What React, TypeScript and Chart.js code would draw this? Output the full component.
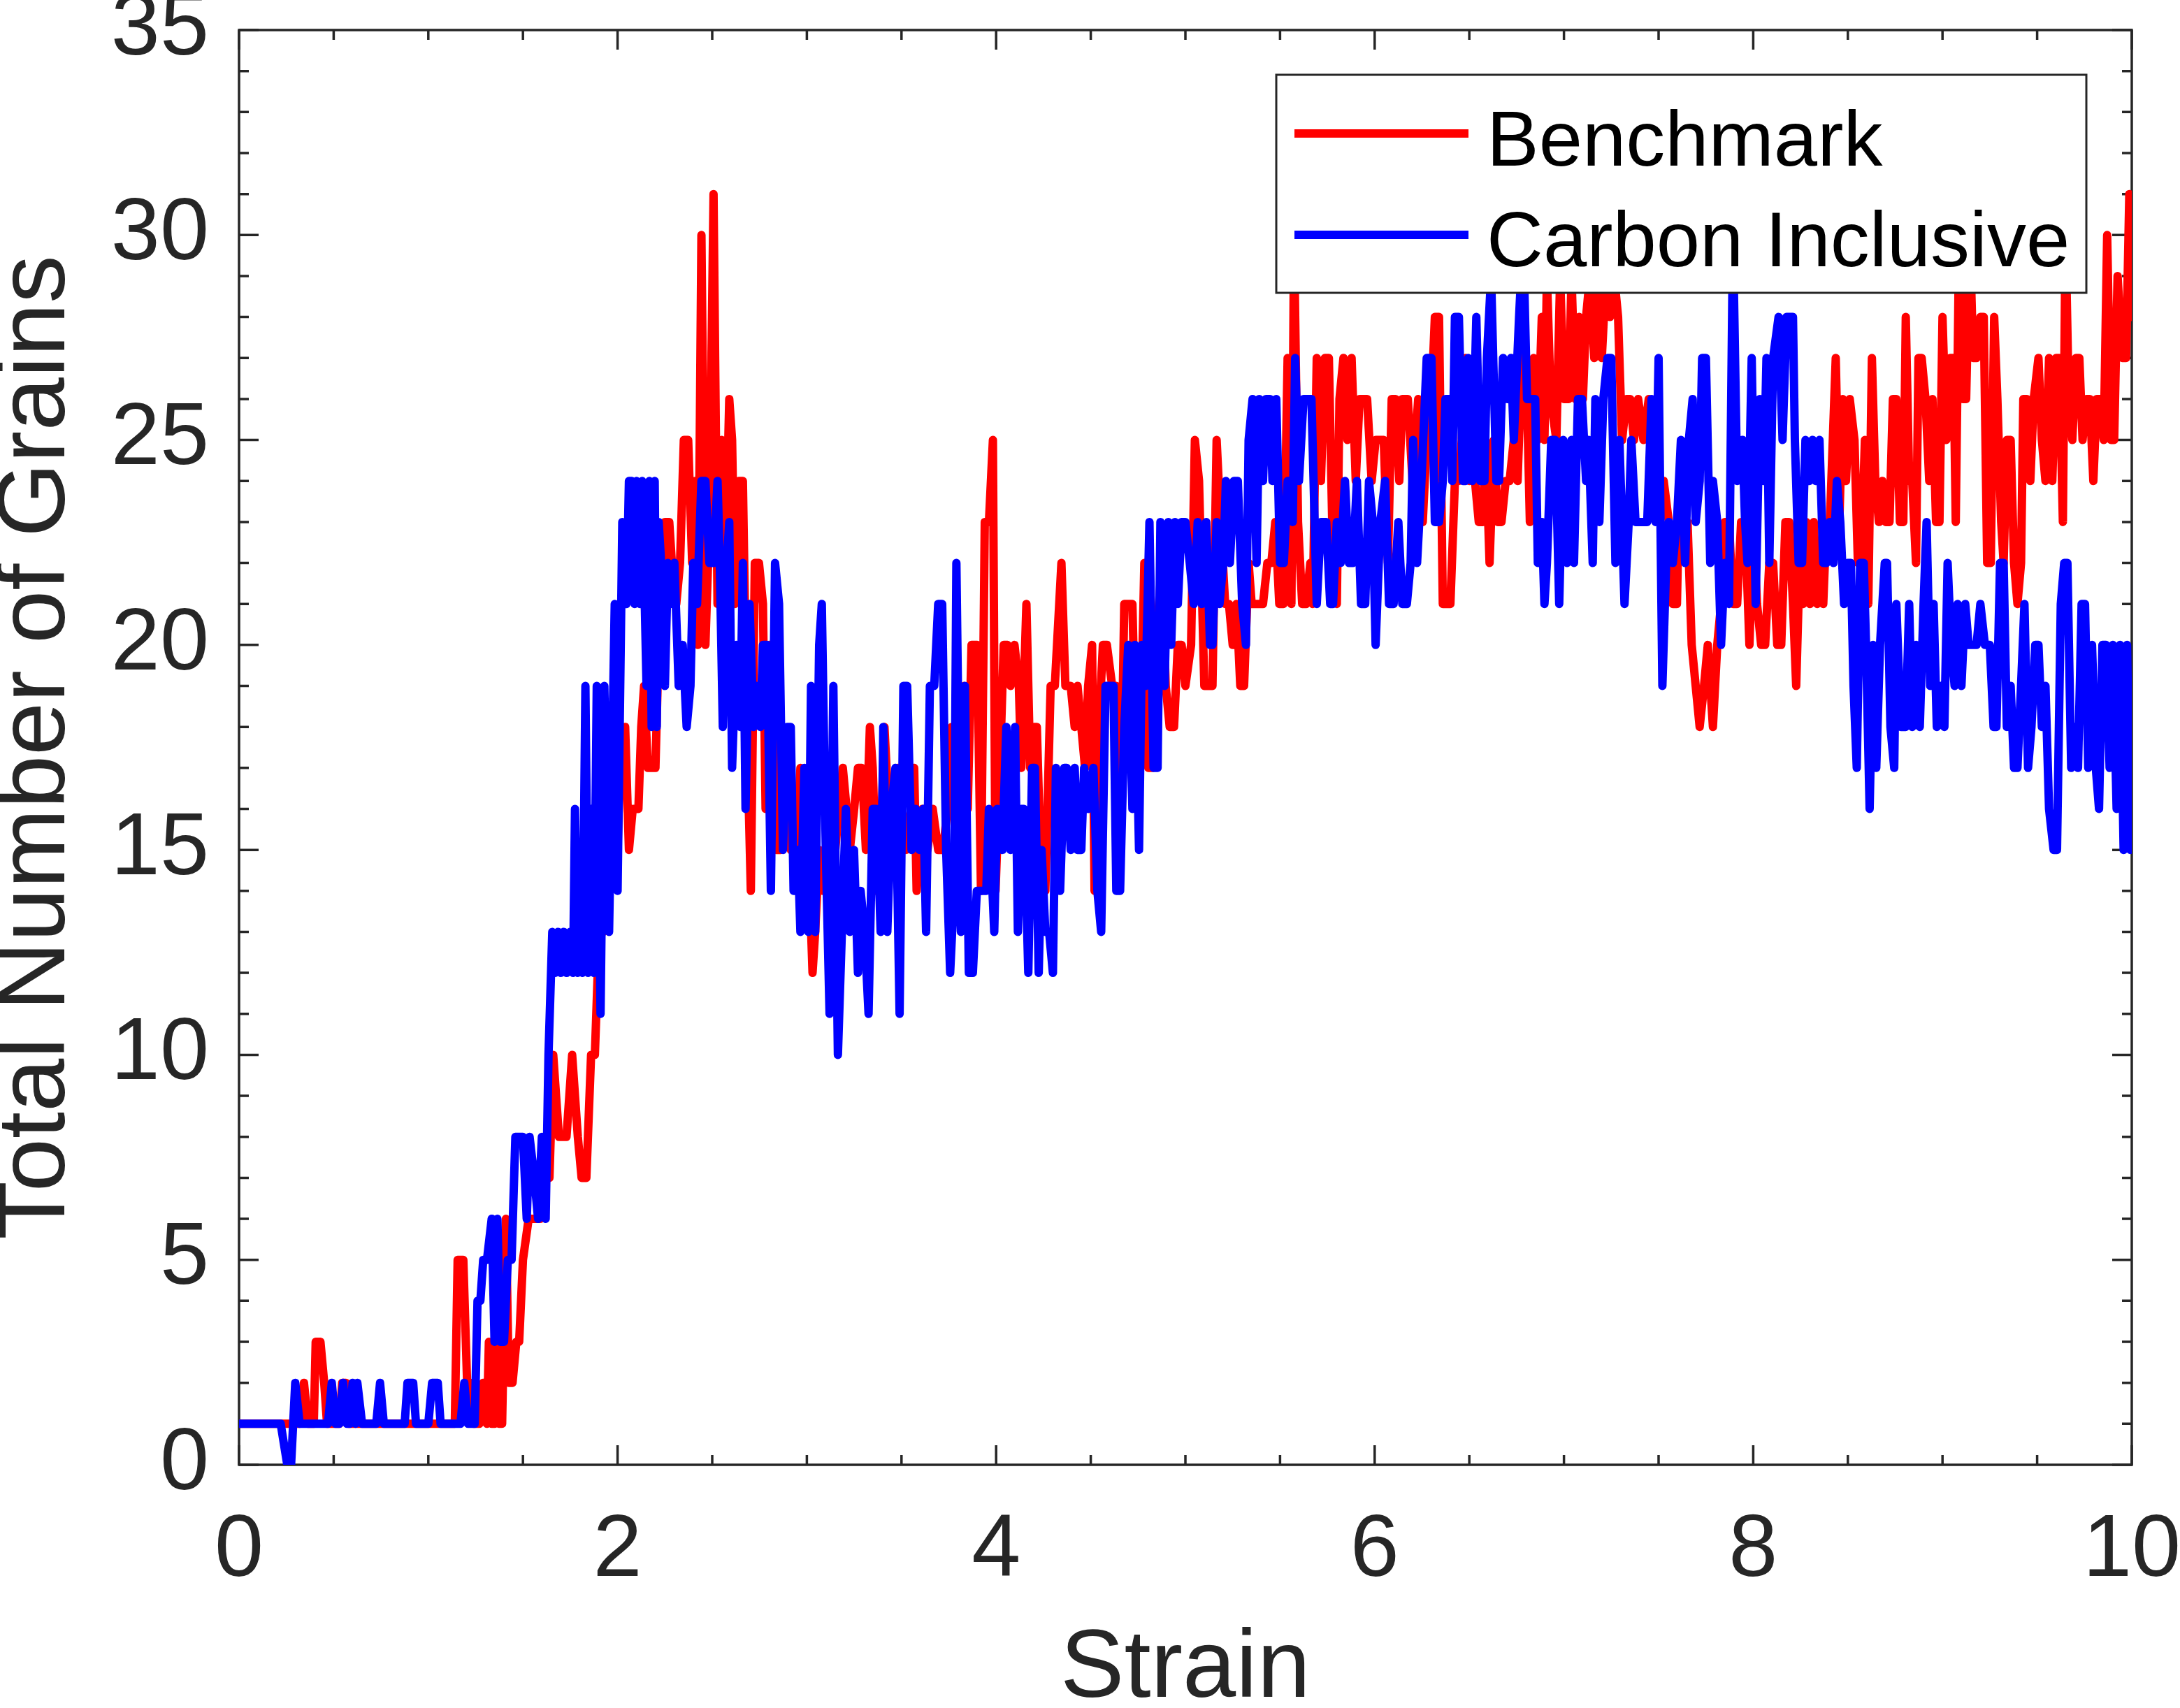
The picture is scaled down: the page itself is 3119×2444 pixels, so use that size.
import React, { useEffect, useRef } from "react";
import { Chart, registerables } from "chart.js";

Chart.register(...registerables);

type P = [number, number];

// ---------- data: [strain, total number of grains] ----------
const carbonA: P[] = [
  [0, 1], [0.22, 1], [0.255, 0], [0.275, 0], [0.297, 2], [0.32, 1], [0.47, 1], [0.49, 2], [0.51, 1], [0.53, 1],
  [0.55, 2], [0.57, 1], [0.585, 1], [0.6, 2], [0.615, 1], [0.625, 2], [0.65, 1], [0.725, 1], [0.745, 2], [0.765, 1],
  [0.875, 1], [0.89, 2], [0.92, 2], [0.935, 1], [1.0, 1], [1.02, 2], [1.05, 2], [1.065, 1], [1.17, 1], [1.19, 2],
  [1.21, 1], [1.245, 1], [1.26, 4], [1.275, 4], [1.29, 5], [1.31, 5], [1.335, 6], [1.35, 3], [1.365, 6], [1.38, 3],
  [1.4, 3], [1.42, 5], [1.44, 5], [1.46, 8], [1.48, 8], [1.5, 8], [1.52, 6], [1.535, 8], [1.56, 7], [1.58, 6],
  [1.6, 8], [1.62, 6], [1.635, 10], [1.655, 13], [1.67, 12], [1.685, 13], [1.7, 12], [1.715, 13], [1.73, 12], [1.75, 13],
  [1.765, 12], [1.775, 16], [1.79, 12], [1.8, 15], [1.815, 12], [1.83, 19], [1.845, 12], [1.86, 16], [1.875, 12], [1.89, 19],
];
const carbonB: P[] = [
  [1.91, 11], [1.93, 19], [1.955, 13], [1.985, 21], [2.0, 14], [2.025, 23], [2.047, 21], [2.06, 24], [2.075, 24], [2.09, 21],
  [2.1, 24], [2.118, 21], [2.13, 24], [2.153, 19], [2.168, 24], [2.18, 18], [2.196, 24], [2.207, 18], [2.217, 23], [2.23, 22],
  [2.25, 19], [2.266, 22], [2.28, 21], [2.3, 22], [2.323, 19], [2.344, 20], [2.365, 18], [2.385, 19], [2.4, 22], [2.42, 21],
  [2.443, 24], [2.464, 24], [2.485, 22], [2.507, 22], [2.528, 24], [2.54, 22], [2.556, 18], [2.577, 22], [2.59, 23], [2.605, 17],
  [2.627, 20], [2.648, 18], [2.662, 22], [2.676, 16], [2.697, 21], [2.718, 18], [2.733, 19], [2.754, 18], [2.768, 20], [2.79, 20],
  [2.81, 14], [2.832, 22], [2.853, 21], [2.874, 15], [2.895, 18], [2.915, 18], [2.93, 14], [2.952, 15], [2.966, 13], [2.987, 17],
  [3.008, 13], [3.022, 19], [3.044, 13], [3.065, 20], [3.079, 21], [3.1, 15], [3.12, 11], [3.14, 19], [3.164, 10], [3.185, 13],
  [3.206, 16], [3.227, 13], [3.249, 15], [3.27, 12], [3.284, 14], [3.305, 13], [3.326, 11], [3.348, 16], [3.369, 16], [3.39, 13],
  [3.404, 18], [3.425, 13], [3.446, 16], [3.468, 17], [3.49, 11], [3.51, 19], [3.53, 19], [3.553, 15], [3.574, 16], [3.595, 15],
  [3.616, 16], [3.63, 13], [3.65, 19], [3.673, 19], [3.694, 21], [3.715, 21], [3.736, 15], [3.757, 12], [3.778, 14], [3.79, 22],
  [3.814, 13], [3.835, 19], [3.856, 12], [3.877, 12], [3.898, 14], [3.92, 14], [3.948, 14], [3.962, 16], [3.99, 13], [4.005, 16],
  [4.033, 15], [4.054, 18],
];
const carbonC: P[] = [
  [4.076, 15], [4.1, 18], [4.115, 13], [4.133, 16], [4.147, 16], [4.17, 12], [4.19, 17], [4.205, 17], [4.225, 12], [4.24, 15],
  [4.26, 13], [4.28, 13], [4.3, 12], [4.316, 17], [4.338, 14], [4.36, 17], [4.373, 17], [4.394, 15], [4.415, 17], [4.43, 15],
  [4.45, 15], [4.465, 17], [4.486, 16], [4.514, 17], [4.535, 14], [4.555, 13], [4.578, 19], [4.6, 19], [4.62, 19], [4.635, 14],
  [4.655, 14], [4.677, 18], [4.698, 20], [4.72, 16], [4.733, 20], [4.755, 15], [4.77, 20], [4.79, 19], [4.81, 23], [4.832, 17],
  [4.853, 17], [4.868, 23], [4.89, 19], [4.91, 23], [4.925, 20], [4.945, 23], [4.96, 21], [4.98, 23], [5.0, 23], [5.023, 22],
  [5.044, 21], [5.065, 23], [5.087, 21], [5.11, 23], [5.13, 20], [5.143, 20], [5.165, 23], [5.18, 21], [5.2, 22], [5.214, 24],
  [5.235, 22], [5.256, 24], [5.277, 24], [5.3, 21], [5.32, 20], [5.334, 25], [5.355, 26], [5.376, 22], [5.39, 26], [5.41, 24],
  [5.426, 26], [5.447, 26], [5.46, 24], [5.48, 26], [5.5, 22], [5.52, 22], [5.54, 24], [5.553, 24], [5.567, 23], [5.58, 27],
  [5.6, 24], [5.624, 26], [5.645, 26], [5.666, 26], [5.694, 21], [5.716, 23], [5.744, 23], [5.765, 21], [5.78, 21], [5.8, 23],
  [5.82, 22], [5.843, 24], [5.864, 22], [5.885, 22], [5.906, 24], [5.928, 21], [5.95, 21], [5.97, 24], [5.99, 23], [6.005, 20],
  [6.03, 23], [6.055, 24], [6.076, 21], [6.1, 21], [6.125, 23], [6.146, 21], [6.17, 21], [6.19, 22], [6.203, 25], [6.224, 22],
];
const carbonD: P[] = [
  [6.247, 24], [6.275, 27], [6.3, 27], [6.318, 23], [6.34, 23], [6.36, 24], [6.374, 26], [6.395, 26], [6.41, 24], [6.424, 28],
  [6.445, 28], [6.466, 24], [6.48, 24], [6.494, 27], [6.516, 24], [6.537, 28], [6.558, 24], [6.58, 24], [6.593, 27], [6.615, 29],
  [6.643, 24], [6.657, 24], [6.678, 27], [6.7, 26], [6.72, 27], [6.735, 25], [6.763, 28], [6.784, 30], [6.805, 26], [6.827, 26],
  [6.848, 26], [6.862, 22], [6.883, 23], [6.897, 21], [6.91, 22], [6.933, 25], [6.954, 25], [6.975, 21], [6.996, 25], [7.017, 22],
  [7.04, 25], [7.053, 22], [7.074, 26], [7.095, 26], [7.117, 24], [7.13, 25], [7.152, 22], [7.166, 26], [7.187, 23], [7.208, 26],
  [7.23, 27], [7.25, 27], [7.272, 22], [7.293, 25], [7.32, 21], [7.342, 23], [7.356, 25], [7.378, 23], [7.4, 23], [7.42, 23],
  [7.44, 23], [7.463, 26], [7.484, 23], [7.5, 27], [7.52, 19], [7.54, 22], [7.554, 23], [7.575, 22], [7.597, 23], [7.618, 25],
  [7.64, 22], [7.66, 25], [7.68, 26], [7.696, 23], [7.717, 24], [7.73, 27], [7.75, 27], [7.773, 22], [7.787, 24], [7.81, 23],
  [7.83, 20], [7.85, 22], [7.872, 21], [7.893, 30], [7.915, 24], [7.943, 25], [7.957, 23], [7.97, 22], [7.992, 27], [8.013, 21],
  [8.035, 26], [8.056, 24], [8.07, 27], [8.085, 22], [8.105, 27], [8.134, 28], [8.155, 25], [8.176, 28], [8.19, 28],
];
const carbonE: P[] = [
  [8.21, 28], [8.22, 25], [8.24, 22], [8.258, 22], [8.276, 25], [8.295, 24], [8.313, 25], [8.33, 24], [8.35, 25], [8.37, 22],
  [8.387, 22], [8.405, 23], [8.424, 22], [8.442, 24], [8.46, 23], [8.48, 21], [8.498, 22], [8.516, 22], [8.53, 19], [8.547, 17],
  [8.565, 22], [8.584, 22], [8.596, 20], [8.615, 16], [8.633, 20], [8.65, 17], [8.67, 20], [8.695, 22], [8.707, 22], [8.725, 18],
  [8.745, 17], [8.756, 21], [8.78, 18], [8.805, 18], [8.824, 21], [8.84, 18], [8.86, 20], [8.88, 18], [8.9, 21], [8.916, 23],
  [8.935, 19], [8.953, 21], [8.97, 18], [8.99, 19], [9.01, 18], [9.027, 22], [9.046, 20], [9.064, 19], [9.08, 21], [9.1, 19],
  [9.12, 21], [9.138, 20], [9.162, 20], [9.18, 20], [9.2, 21], [9.224, 20], [9.25, 20], [9.27, 18], [9.285, 18], [9.304, 22],
  [9.323, 22], [9.34, 18], [9.36, 19], [9.378, 17], [9.396, 17], [9.415, 19], [9.433, 21], [9.452, 17], [9.47, 18], [9.49, 20],
  [9.507, 20], [9.525, 18], [9.544, 19], [9.563, 16], [9.587, 15], [9.605, 15], [9.625, 21], [9.643, 22], [9.66, 22], [9.68, 17],
  [9.698, 18], [9.716, 17], [9.735, 21], [9.753, 21], [9.77, 17], [9.79, 20], [9.81, 17], [9.827, 16], [9.845, 20], [9.864, 20],
  [9.883, 17], [9.9, 20], [9.92, 16], [9.938, 20], [9.957, 15], [9.975, 20], [9.993, 15], [10.0, 19],
];

const benchA: P[] = [
  [0, 1], [0.32, 1], [0.343, 2], [0.365, 1], [0.395, 1], [0.405, 3], [0.43, 3], [0.45, 2], [0.465, 1], [0.53, 1],
  [0.545, 2], [0.565, 2], [0.58, 1], [1.14, 1], [1.155, 5], [1.185, 5], [1.205, 2], [1.225, 2], [1.24, 1], [1.27, 1],
  [1.29, 2], [1.31, 1], [1.32, 3], [1.335, 1], [1.35, 1], [1.365, 3], [1.375, 1], [1.39, 1], [1.41, 6], [1.425, 2],
  [1.445, 2], [1.465, 3], [1.48, 3], [1.5, 5], [1.53, 6], [1.56, 6], [1.59, 6], [1.62, 7], [1.64, 7], [1.66, 10],
  [1.675, 9], [1.69, 8], [1.71, 8], [1.73, 8], [1.745, 9], [1.76, 10], [1.775, 9], [1.79, 8], [1.81, 7], [1.835, 7],
  [1.86, 10], [1.88, 10], [1.895, 12], [1.91, 13],
];
const benchB: P[] = [
  [1.925, 13], [1.94, 16], [1.955, 14], [1.97, 17], [1.985, 15], [2.0, 15], [2.012, 17], [2.04, 18], [2.06, 15], [2.08, 16],
  [2.11, 16], [2.125, 18], [2.14, 19], [2.16, 17], [2.18, 17], [2.2, 17], [2.217, 20], [2.23, 20], [2.25, 23], [2.273, 23],
  [2.287, 22], [2.31, 21], [2.33, 22], [2.35, 25], [2.373, 25], [2.394, 22], [2.41, 24], [2.425, 20], [2.443, 30], [2.464, 20],
  [2.485, 23], [2.507, 31], [2.528, 21], [2.55, 25], [2.57, 22], [2.59, 26], [2.605, 25], [2.62, 21], [2.64, 24], [2.662, 24],
  [2.683, 18], [2.704, 14], [2.725, 22], [2.747, 22], [2.768, 21], [2.782, 16], [2.8, 20], [2.824, 20], [2.838, 15], [2.86, 15],
  [2.888, 16], [2.916, 15], [2.945, 15], [2.966, 17], [2.987, 16], [3.008, 15], [3.03, 12], [3.044, 13], [3.065, 15], [3.086, 14],
  [3.105, 15], [3.128, 16], [3.15, 15], [3.17, 16], [3.19, 17], [3.21, 16], [3.227, 15], [3.25, 16], [3.27, 17], [3.29, 17],
  [3.312, 15], [3.333, 18], [3.348, 17], [3.369, 14], [3.39, 15], [3.41, 18], [3.432, 16], [3.453, 15], [3.48, 17], [3.5, 16],
  [3.524, 15], [3.55, 16], [3.567, 17], [3.58, 14], [3.61, 16], [3.637, 15], [3.665, 16], [3.694, 15], [3.72, 15], [3.743, 16],
  [3.765, 18], [3.79, 16], [3.83, 19], [3.85, 16], [3.87, 20], [3.9, 20], [3.92, 14], [3.94, 23], [3.962, 23], [3.983, 25],
  [3.997, 14], [4.02, 17], [4.04, 20],
];
const benchC: P[] = [
  [4.06, 20], [4.076, 19], [4.097, 20], [4.12, 19], [4.133, 17], [4.16, 21], [4.18, 17], [4.2, 18], [4.215, 18], [4.24, 14],
  [4.26, 14], [4.288, 19], [4.31, 19], [4.345, 22], [4.366, 19], [4.394, 19], [4.415, 18], [4.43, 19], [4.45, 18], [4.47, 17],
  [4.486, 19], [4.507, 20], [4.52, 14], [4.543, 18], [4.564, 20], [4.585, 20], [4.613, 19], [4.635, 19], [4.655, 15], [4.677, 21],
  [4.698, 21], [4.72, 21], [4.74, 17], [4.76, 17], [4.783, 22], [4.804, 17], [4.825, 17], [4.846, 20], [4.875, 22], [4.896, 19],
  [4.917, 18], [4.94, 18], [4.96, 20], [4.98, 20], [5.0, 19], [5.03, 20], [5.05, 25], [5.072, 24], [5.1, 19], [5.12, 19],
  [5.143, 19], [5.165, 25], [5.186, 23], [5.21, 21], [5.23, 21], [5.25, 20], [5.27, 21], [5.29, 19], [5.31, 19], [5.334, 22],
  [5.35, 21], [5.37, 21], [5.39, 21], [5.41, 21], [5.433, 22], [5.454, 22], [5.475, 23], [5.496, 21], [5.518, 21], [5.54, 27],
  [5.56, 21], [5.574, 30], [5.595, 23], [5.617, 21], [5.638, 21], [5.66, 22], [5.673, 21], [5.694, 27], [5.716, 24], [5.737, 27],
  [5.758, 27], [5.78, 22], [5.8, 21], [5.814, 26], [5.835, 27], [5.856, 25], [5.878, 27], [5.9, 24], [5.92, 26], [5.94, 26],
  [5.96, 26], [5.984, 24], [6.005, 25], [6.026, 25], [6.048, 25], [6.07, 22], [6.09, 26], [6.11, 26], [6.13, 24], [6.146, 26],
  [6.175, 26], [6.2, 24], [6.23, 26],
];
const benchD: P[] = [
  [6.254, 23], [6.275, 25], [6.3, 26], [6.318, 28], [6.34, 28], [6.36, 21], [6.38, 21], [6.4, 21], [6.424, 24], [6.445, 24],
  [6.46, 25], [6.48, 27], [6.5, 24], [6.516, 26], [6.53, 24], [6.55, 23], [6.572, 23], [6.586, 25], [6.607, 22], [6.63, 25],
  [6.65, 23], [6.67, 23], [6.692, 24], [6.713, 24], [6.735, 25], [6.755, 24], [6.777, 27], [6.8, 27], [6.82, 23], [6.84, 27],
  [6.862, 25], [6.883, 28], [6.897, 25], [6.91, 29], [6.93, 26], [6.96, 25], [6.98, 29], [7.0, 26], [7.025, 26], [7.04, 29],
  [7.06, 26], [7.08, 28], [7.1, 26], [7.117, 28], [7.137, 29], [7.16, 27], [7.18, 29], [7.2, 27], [7.222, 29], [7.243, 28],
  [7.265, 29], [7.286, 28], [7.307, 25], [7.33, 26], [7.35, 26], [7.37, 25], [7.392, 26], [7.42, 25], [7.448, 26], [7.476, 24],
  [7.5, 23], [7.527, 24], [7.554, 23], [7.575, 21], [7.597, 21], [7.61, 24], [7.632, 23], [7.653, 23], [7.675, 20], [7.696, 19],
  [7.717, 18], [7.74, 19], [7.76, 20], [7.787, 18], [7.81, 20], [7.83, 21], [7.85, 23], [7.872, 23], [7.893, 21], [7.915, 21],
  [7.936, 23], [7.957, 23], [7.98, 20], [8.0, 23], [8.02, 21], [8.042, 20], [8.063, 20], [8.085, 22], [8.105, 22], [8.127, 20],
  [8.148, 20], [8.17, 23],
];
const benchE: P[] = [
  [8.19, 23], [8.21, 21], [8.227, 19], [8.245, 22], [8.264, 21], [8.28, 23], [8.3, 21], [8.32, 23], [8.338, 21], [8.356, 22],
  [8.37, 21], [8.387, 23], [8.405, 23], [8.436, 27], [8.455, 23], [8.473, 26], [8.49, 24], [8.51, 26], [8.535, 25], [8.553, 22],
  [8.57, 22], [8.59, 25], [8.608, 21], [8.627, 27], [8.645, 24], [8.664, 23], [8.682, 24], [8.7, 23], [8.72, 23], [8.738, 26],
  [8.756, 26], [8.775, 23], [8.793, 23], [8.806, 28], [8.824, 24], [8.84, 24], [8.86, 22], [8.873, 27], [8.89, 27], [8.91, 26],
  [8.93, 24], [8.947, 26], [8.966, 23], [8.984, 23], [9.0, 28], [9.02, 25], [9.04, 27], [9.058, 27], [9.07, 23], [9.088, 30],
  [9.107, 26], [9.125, 26], [9.144, 30], [9.162, 27], [9.18, 27], [9.2, 28], [9.218, 28], [9.236, 22], [9.255, 22], [9.273, 28],
  [9.29, 26], [9.31, 23], [9.323, 22], [9.34, 25], [9.36, 25], [9.378, 22], [9.396, 21], [9.415, 22], [9.427, 26], [9.446, 26],
  [9.464, 24], [9.482, 26], [9.507, 27], [9.525, 25], [9.544, 24], [9.563, 27], [9.58, 24], [9.6, 27], [9.617, 27], [9.636, 23],
  [9.65, 30], [9.667, 26], [9.686, 25], [9.705, 27], [9.723, 27], [9.74, 25], [9.76, 26], [9.778, 26], [9.797, 24], [9.815, 26],
  [9.833, 26], [9.852, 25], [9.87, 30], [9.89, 25], [9.907, 25], [9.925, 29], [9.95, 27], [9.97, 27], [9.987, 31], [10.0, 28],
];

const seriesLabels = ["Benchmark", "Carbon Inclusive"];
const seriesColors = ["#FF0000", "#0000FF"];
const xRange = [0, 10];
const yRange = [0, 35];
const xMajorStep = 2;
const xMinorStep = 0.5;
const yMajorStep = 5;
const yMinorStep = 1;
const xTitle = "Strain";
const yTitle = "Total Number of Grains";

// ---------- style ----------
const FONT = "'Liberation Sans', Arial, Helvetica, sans-serif";
const AXIS_COLOR = "#262626";
const MAJOR_LEN = 28;
const MINOR_LEN = 14;

const toXY = (pts: P[]) => pts.map(([x, y]) => ({ x, y }));

const framePlugin = {
  id: "matlabFrame",
  beforeDatasetsDraw(chart: any) {
    const { ctx, chartArea: a, scales } = chart;
    const xs = scales.x;
    const ys = scales.y;
    ctx.save();
    ctx.strokeStyle = AXIS_COLOR;
    ctx.lineWidth = 3.5;
    ctx.lineCap = "butt";
    ctx.beginPath();
    const nx = Math.round((xRange[1] - xRange[0]) / xMinorStep);
    for (let i = 0; i <= nx; i++) {
      const v = xRange[0] + i * xMinorStep;
      const isMajor = Math.abs(v / xMajorStep - Math.round(v / xMajorStep)) < 1e-6;
      const len = isMajor ? MAJOR_LEN : MINOR_LEN;
      const px = xs.getPixelForValue(v);
      ctx.moveTo(px, a.bottom);
      ctx.lineTo(px, a.bottom - len);
      ctx.moveTo(px, a.top);
      ctx.lineTo(px, a.top + len);
    }
    const ny = Math.round((yRange[1] - yRange[0]) / yMinorStep);
    for (let i = 0; i <= ny; i++) {
      const v = yRange[0] + i * yMinorStep;
      const isMajor = Math.abs(v / yMajorStep - Math.round(v / yMajorStep)) < 1e-6;
      const len = isMajor ? MAJOR_LEN : MINOR_LEN;
      const py = ys.getPixelForValue(v);
      ctx.moveTo(a.left, py);
      ctx.lineTo(a.left + len, py);
      ctx.moveTo(a.right, py);
      ctx.lineTo(a.right - len, py);
    }
    ctx.stroke();
    ctx.strokeRect(a.left, a.top, a.right - a.left, a.bottom - a.top);
    ctx.restore();
  },
  afterDatasetsDraw(chart: any) {
    const { ctx, chartArea: a } = chart;
    const w = 1159;
    const h = 312;
    const right = a.right - 65;
    const left = right - w;
    const top = a.top + 64;
    ctx.save();
    ctx.fillStyle = "#FFFFFF";
    ctx.fillRect(left, top, w, h);
    ctx.strokeStyle = AXIS_COLOR;
    ctx.lineWidth = 3;
    ctx.strokeRect(left, top, w, h);
    const rows = [84, 229];
    const baselines = [130, 274];
    chart.data.datasets.forEach((ds: any, i: number) => {
      const idx = seriesLabels.indexOf(ds.label);
      const r = idx < 0 ? i : idx;
      ctx.strokeStyle = ds.borderColor;
      ctx.lineWidth = 12;
      ctx.lineCap = "butt";
      ctx.beginPath();
      ctx.moveTo(left + 26, top + rows[r]);
      ctx.lineTo(left + 275, top + rows[r]);
      ctx.stroke();
      ctx.fillStyle = "#000000";
      ctx.font = `112px ${FONT}`;
      ctx.textAlign = "left";
      ctx.textBaseline = "alphabetic";
      ctx.fillText(ds.label, left + 301, top + baselines[r]);
    });
    ctx.restore();
  },
};

export default function App() {
  const canvasRef = useRef<HTMLCanvasElement | null>(null);

  useEffect(() => {
    if (!canvasRef.current) return;
    const benchmark = toXY([...benchA, ...benchB, ...benchC, ...benchD, ...benchE]);
    const carbon = toXY([...carbonA, ...carbonB, ...carbonC, ...carbonD, ...carbonE]);

    const lineStyle = {
      borderWidth: 12,
      pointRadius: 0,
      pointHoverRadius: 0,
      tension: 0,
      fill: false,
      borderJoinStyle: "round" as const,
      borderCapStyle: "round" as const,
    };

    const chart = new Chart(canvasRef.current, {
      type: "line",
      data: {
        datasets: [
          { label: seriesLabels[0], data: benchmark, borderColor: seriesColors[0], backgroundColor: seriesColors[0], order: 1, ...lineStyle },
          { label: seriesLabels[1], data: carbon, borderColor: seriesColors[1], backgroundColor: seriesColors[1], order: 0, ...lineStyle },
        ],
      },
      options: {
        animation: false,
        responsive: true,
        maintainAspectRatio: false,
        devicePixelRatio: 1,
        events: [],
        layout: { padding: { top: 43, right: 69, bottom: 0, left: 0 } },
        plugins: {
          legend: { display: false },
          tooltip: { enabled: false },
          title: { display: false },
        },
        scales: {
          x: {
            type: "linear",
            min: xRange[0],
            max: xRange[1],
            grid: { display: false, drawTicks: false },
            border: { display: false },
            ticks: {
              stepSize: xMajorStep,
              padding: 61,
              color: AXIS_COLOR,
              font: { family: FONT, size: 126, lineHeight: 1 },
              maxRotation: 0,
              autoSkip: false,
            },
            title: {
              display: true,
              text: xTitle,
              color: AXIS_COLOR,
              font: { family: FONT, size: 137, lineHeight: 0.79 },
              padding: 0,
            },
            afterFit: (s: any) => {
              s.height = 348;
              s.paddingLeft = 0;
              s.paddingRight = 0;
              s.paddingTop = 0;
              s.paddingBottom = 0;
            },
          },
          y: {
            type: "linear",
            min: yRange[0],
            max: yRange[1],
            grid: { display: false, drawTicks: false },
            border: { display: false },
            ticks: {
              stepSize: yMajorStep,
              padding: 43,
              color: AXIS_COLOR,
              font: { family: FONT, size: 126, lineHeight: 1 },
              autoSkip: false,
            },
            title: {
              display: true,
              text: yTitle,
              color: AXIS_COLOR,
              font: { family: FONT, size: 137, lineHeight: 0.79 },
              padding: 0,
            },
            afterFit: (s: any) => {
              s.width = 342;
              s.paddingLeft = 0;
              s.paddingRight = 0;
              s.paddingTop = 0;
              s.paddingBottom = 0;
            },
          },
        },
      },
      plugins: [framePlugin],
    });

    return () => chart.destroy();
  }, []);

  return (
    <div style={{ position: "fixed", left: 0, top: 0, width: "3119px", height: "2444px", background: "#FFFFFF" }}>
      <canvas ref={canvasRef} />
    </div>
  );
}
